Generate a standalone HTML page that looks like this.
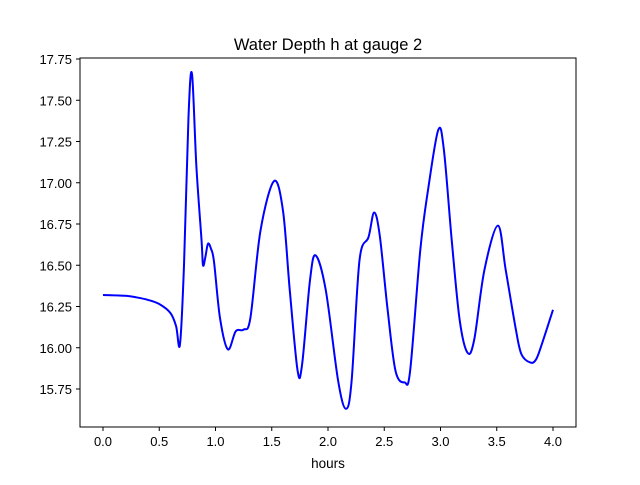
<!DOCTYPE html>
<html><head><meta charset="utf-8"><style>
body{margin:0;background:#fff}
text{font-family:"Liberation Sans","DejaVu Sans",sans-serif;fill:#000}
</style></head><body>
<svg id="chart" width="640" height="480">
<rect width="640" height="480" fill="#fff"/>
<text x="328" y="50" font-size="16.5" text-anchor="middle">Water Depth h at gauge 2</text>
<text x="328" y="468" font-size="13.5" text-anchor="middle">hours</text>
<g id="ticks"></g>
<path id="line" fill="none" stroke="#0000ff" stroke-width="2"/>
<rect x="80" y="58" width="496" height="369" fill="none" stroke="#000" stroke-width="1"/>
</svg>
<script>
const hours=[0,0.2,0.3,0.4,0.5,0.6,0.65,0.684,0.72,0.76,0.791,0.83,0.876,0.889,0.91,0.933,0.96,0.987,1.04,1.11,1.18,1.25,1.31,1.40,1.52,1.60,1.66,1.73,1.77,1.84,1.89,1.98,2.09,2.16,2.21,2.28,2.36,2.41,2.46,2.53,2.60,2.68,2.73,2.82,2.89,2.98,3.03,3.10,3.17,3.24,3.30,3.39,3.51,3.58,3.67,3.72,3.80,3.85,3.90,4.0];
const depth=[16.32,16.315,16.305,16.29,16.265,16.21,16.13,16.02,16.5,17.4,17.66,17.1,16.65,16.5,16.55,16.63,16.6,16.52,16.18,15.99,16.10,16.11,16.18,16.71,17.01,16.83,16.35,15.86,15.90,16.41,16.56,16.35,15.80,15.63,15.80,16.53,16.67,16.82,16.68,16.23,15.86,15.79,15.86,16.59,16.96,17.32,17.20,16.65,16.17,15.97,16.05,16.47,16.74,16.47,16.11,15.96,15.91,15.93,16.02,16.23];
const xTicks=[0,0.5,1.0,1.5,2.0,2.5,3.0,3.5,4.0];
const yTicks=[15.75,16.00,16.25,16.50,16.75,17.00,17.25,17.50,17.75];
const X=v=>103+v*112.5;
const Y=v=>59+(17.75-v)*165;
const NS="http://www.w3.org/2000/svg";
const g=document.getElementById('ticks');
function mk(t,a){const e=document.createElementNS(NS,t);for(const k in a)e.setAttribute(k,a[k]);g.appendChild(e);return e;}
xTicks.forEach(v=>{
 const l=mk('line',{x1:X(v),x2:X(v),y1:427,y2:431,stroke:'#000'});
 
 
 const t=mk('text',{x:X(v),y:446,'font-size':13,'text-anchor':'middle'});
 
 
 t.textContent=v.toFixed(1);
});
yTicks.forEach(v=>{
 const l=mk('line',{x1:76,x2:80,y1:Y(v),y2:Y(v),stroke:'#000'});
 
 
 const t=mk('text',{x:72,y:Y(v)+5,'font-size':13,'text-anchor':'end'});
 
 
 t.textContent=v.toFixed(2);
});
const P=hours.map((h,i)=>[X(h),Y(depth[i])]);
let d='M'+P[0][0]+','+P[0][1];
for(let i=0;i<P.length-1;i++){
 const p0=P[Math.max(0,i-1)],p1=P[i],p2=P[i+1],p3=P[Math.min(P.length-1,i+2)];
 const c1=[p1[0]+(p2[0]-p0[0])/6,p1[1]+(p2[1]-p0[1])/6];
 const c2=[p2[0]-(p3[0]-p1[0])/6,p2[1]-(p3[1]-p1[1])/6];
 d+=` C${c1[0]},${c1[1]} ${c2[0]},${c2[1]} ${p2[0]},${p2[1]}`;
}
document.getElementById('line').setAttribute('d',d);
</script>
</body></html>
